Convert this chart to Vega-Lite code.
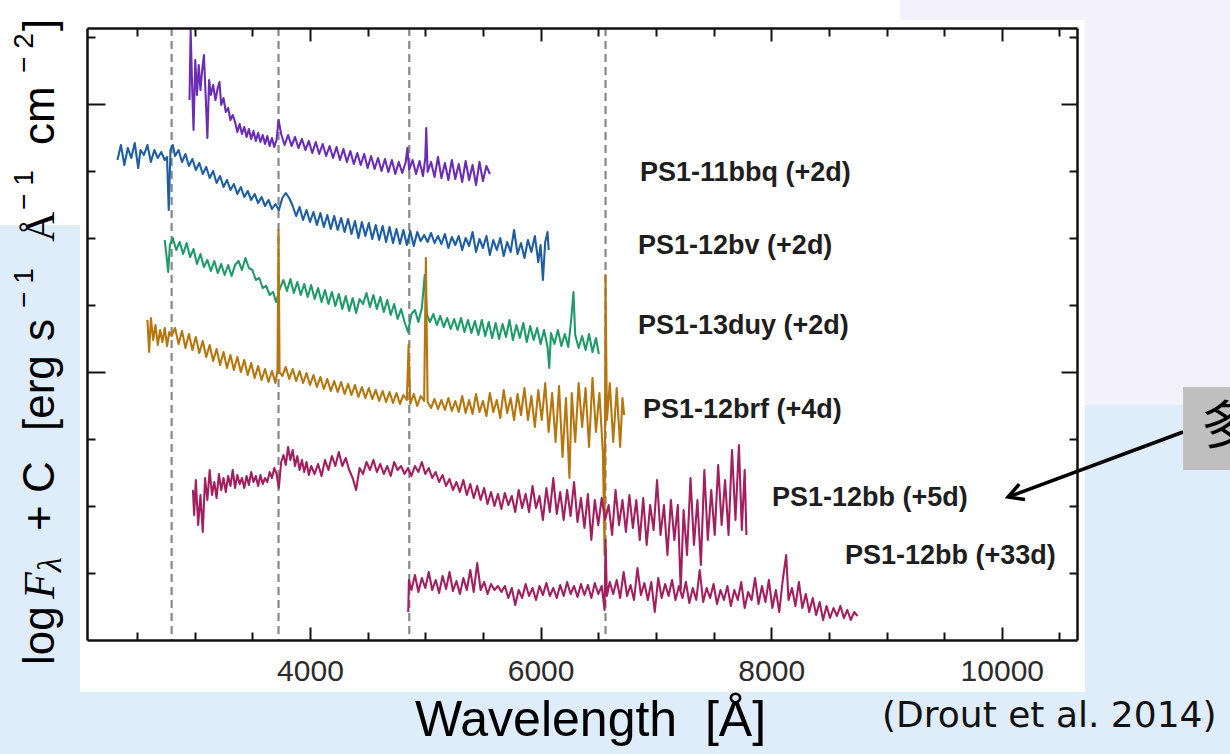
{
  "$schema": "https://vega.github.io/schema/vega-lite/v6.json",
  "width": 990,
  "height": 612,
  "autosize": {"type": "none"},
  "padding": {"left": 87, "top": 28, "right": 153, "bottom": 114},
  "background": "#dfecfa",
  "config": {"view": {"stroke": null}, "axis": {"grid": false, "zindex": 1}},
  "datasets": {
    "backdrop": [
      {"zone": "chart", "x0": 2005, "x1": 10722, "y0": -52, "y1": 620, "tone": "white"},
      {"zone": "topleft", "x0": 1311, "x1": 2005, "y0": 415, "y1": 640, "tone": "white"},
      {"zone": "topstrip", "x0": 1311, "x1": 9117, "y0": 620, "y1": 640, "tone": "white"},
      {"zone": "topright", "x0": 9117, "x1": 11980, "y0": 620, "y1": 640, "tone": "lavender"},
      {"zone": "right", "x0": 10722, "x1": 11980, "y0": 235, "y1": 620, "tone": "lavender"}
    ],
    "lines": [
      {"ion": "Mg II", "w": 2800},
      {"ion": "[O II]", "w": 3727},
      {"ion": "Hβ", "w": 4861},
      {"ion": "Hα", "w": 6563}
    ],
    "labels": [
      {"name": "PS1-11bbq (+2d)", "w": 6862, "v": 467},
      {"name": "PS1-12bv (+2d)", "w": 6845, "v": 394},
      {"name": "PS1-13duy (+2d)", "w": 6845, "v": 314},
      {"name": "PS1-12brf (+4d)", "w": 6888, "v": 230},
      {"name": "PS1-12bb (+5d)", "w": 8007, "v": 142},
      {"name": "PS1-12bb (+33d)", "w": 8640, "v": 84}
    ],
    "ytitle": [
      {"t": "log", "pos": -25, "part": "main"},
      {"t": "F", "pos": 41, "part": "ital"},
      {"t": "λ", "pos": 68, "part": "sub"},
      {"t": "+", "pos": 109, "part": "main"},
      {"t": "C", "pos": 147, "part": "main"},
      {"t": "[erg", "pos": 209, "part": "main"},
      {"t": "s", "pos": 299, "part": "main"},
      {"t": "− 1", "pos": 332, "part": "sup"},
      {"t": "Å", "pos": 398, "part": "serif"},
      {"t": "− 1", "pos": 430, "part": "sup"},
      {"t": "cm", "pos": 495, "part": "main"},
      {"t": "− 2", "pos": 567, "part": "sup"},
      {"t": "]", "pos": 609, "part": "main"}
    ],
    "arrow": [{"x": 11572, "y": 208, "x2": 10054, "y2": 143}],
    "spec": [
      {"s":"11bbq","w":2955,"f":540},{"s":"11bbq","w":2965,"f":610},{"s":"11bbq","w":2975,"f":565},{"s":"11bbq","w":2990,"f":510},{"s":"11bbq","w":3005,"f":580},{"s":"11bbq","w":3020,"f":545},{"s":"11bbq","w":3035,"f":575},{"s":"11bbq","w":3050,"f":550},{"s":"11bbq","w":3065,"f":570},{"s":"11bbq","w":3080,"f":585},{"s":"11bbq","w":3095,"f":545},{"s":"11bbq","w":3110,"f":502},{"s":"11bbq","w":3125,"f":560},{"s":"11bbq","w":3140,"f":545},{"s":"11bbq","w":3160,"f":555},{"s":"11bbq","w":3180,"f":540},{"s":"11bbq","w":3200,"f":552},{"s":"11bbq","w":3215,"f":558},{"s":"11bbq","w":3230,"f":535},{"s":"11bbq","w":3250,"f":542},{"s":"11bbq","w":3270,"f":528},{"s":"11bbq","w":3290,"f":532},{"s":"11bbq","w":3310,"f":520},{"s":"11bbq","w":3330,"f":525},{"s":"11bbq","w":3350,"f":518},{"s":"11bbq","w":3370,"f":508},{"s":"11bbq","w":3390,"f":516},{"s":"11bbq","w":3410,"f":506},{"s":"11bbq","w":3430,"f":513},{"s":"11bbq","w":3450,"f":503},{"s":"11bbq","w":3470,"f":511},{"s":"11bbq","w":3490,"f":501},{"s":"11bbq","w":3510,"f":509},{"s":"11bbq","w":3530,"f":499},{"s":"11bbq","w":3550,"f":507},{"s":"11bbq","w":3570,"f":498},{"s":"11bbq","w":3590,"f":505},{"s":"11bbq","w":3610,"f":496},{"s":"11bbq","w":3630,"f":504},{"s":"11bbq","w":3650,"f":494},{"s":"11bbq","w":3670,"f":502},{"s":"11bbq","w":3690,"f":493},{"s":"11bbq","w":3710,"f":500},{"s":"11bbq","w":3727,"f":520},{"s":"11bbq","w":3750,"f":506},{"s":"11bbq","w":3780,"f":495},{"s":"11bbq","w":3810,"f":505},{"s":"11bbq","w":3840,"f":494},{"s":"11bbq","w":3870,"f":503},{"s":"11bbq","w":3900,"f":492},{"s":"11bbq","w":3930,"f":501},{"s":"11bbq","w":3960,"f":490},{"s":"11bbq","w":3990,"f":499},{"s":"11bbq","w":4020,"f":487},{"s":"11bbq","w":4050,"f":498},{"s":"11bbq","w":4080,"f":486},{"s":"11bbq","w":4110,"f":496},{"s":"11bbq","w":4140,"f":484},{"s":"11bbq","w":4170,"f":494},{"s":"11bbq","w":4200,"f":482},{"s":"11bbq","w":4230,"f":493},{"s":"11bbq","w":4260,"f":480},{"s":"11bbq","w":4290,"f":491},{"s":"11bbq","w":4320,"f":478},{"s":"11bbq","w":4350,"f":489},{"s":"11bbq","w":4380,"f":476},{"s":"11bbq","w":4410,"f":487},{"s":"11bbq","w":4440,"f":475},{"s":"11bbq","w":4470,"f":486},{"s":"11bbq","w":4500,"f":472},{"s":"11bbq","w":4530,"f":484},{"s":"11bbq","w":4560,"f":471},{"s":"11bbq","w":4590,"f":482},{"s":"11bbq","w":4620,"f":469},{"s":"11bbq","w":4650,"f":481},{"s":"11bbq","w":4680,"f":468},{"s":"11bbq","w":4710,"f":480},{"s":"11bbq","w":4740,"f":466},{"s":"11bbq","w":4770,"f":478},{"s":"11bbq","w":4800,"f":467},{"s":"11bbq","w":4830,"f":478},{"s":"11bbq","w":4845,"f":492},{"s":"11bbq","w":4860,"f":470},{"s":"11bbq","w":4890,"f":480},{"s":"11bbq","w":4920,"f":466},{"s":"11bbq","w":4950,"f":479},{"s":"11bbq","w":4980,"f":464},{"s":"11bbq","w":5000,"f":482},{"s":"11bbq","w":5008,"f":512},{"s":"11bbq","w":5020,"f":468},{"s":"11bbq","w":5050,"f":478},{"s":"11bbq","w":5080,"f":463},{"s":"11bbq","w":5110,"f":483},{"s":"11bbq","w":5140,"f":462},{"s":"11bbq","w":5170,"f":477},{"s":"11bbq","w":5200,"f":460},{"s":"11bbq","w":5230,"f":480},{"s":"11bbq","w":5260,"f":461},{"s":"11bbq","w":5290,"f":476},{"s":"11bbq","w":5320,"f":458},{"s":"11bbq","w":5350,"f":479},{"s":"11bbq","w":5380,"f":460},{"s":"11bbq","w":5410,"f":475},{"s":"11bbq","w":5440,"f":455},{"s":"11bbq","w":5470,"f":478},{"s":"11bbq","w":5500,"f":459},{"s":"11bbq","w":5530,"f":474},{"s":"11bbq","w":5560,"f":466},
      {"s":"12bv","w":2330,"f":480},{"s":"12bv","w":2360,"f":495},{"s":"12bv","w":2390,"f":475},{"s":"12bv","w":2420,"f":492},{"s":"12bv","w":2450,"f":482},{"s":"12bv","w":2480,"f":497},{"s":"12bv","w":2510,"f":472},{"s":"12bv","w":2530,"f":490},{"s":"12bv","w":2560,"f":485},{"s":"12bv","w":2590,"f":495},{"s":"12bv","w":2620,"f":478},{"s":"12bv","w":2650,"f":490},{"s":"12bv","w":2680,"f":482},{"s":"12bv","w":2710,"f":488},{"s":"12bv","w":2740,"f":480},{"s":"12bv","w":2760,"f":483},{"s":"12bv","w":2775,"f":430},{"s":"12bv","w":2790,"f":490},{"s":"12bv","w":2810,"f":495},{"s":"12bv","w":2830,"f":484},{"s":"12bv","w":2860,"f":490},{"s":"12bv","w":2890,"f":478},{"s":"12bv","w":2920,"f":486},{"s":"12bv","w":2950,"f":474},{"s":"12bv","w":2980,"f":481},{"s":"12bv","w":3010,"f":470},{"s":"12bv","w":3040,"f":477},{"s":"12bv","w":3070,"f":466},{"s":"12bv","w":3100,"f":473},{"s":"12bv","w":3130,"f":462},{"s":"12bv","w":3160,"f":469},{"s":"12bv","w":3190,"f":457},{"s":"12bv","w":3220,"f":464},{"s":"12bv","w":3250,"f":453},{"s":"12bv","w":3280,"f":460},{"s":"12bv","w":3310,"f":450},{"s":"12bv","w":3340,"f":456},{"s":"12bv","w":3370,"f":446},{"s":"12bv","w":3400,"f":453},{"s":"12bv","w":3430,"f":443},{"s":"12bv","w":3460,"f":449},{"s":"12bv","w":3490,"f":440},{"s":"12bv","w":3520,"f":446},{"s":"12bv","w":3550,"f":437},{"s":"12bv","w":3580,"f":443},{"s":"12bv","w":3610,"f":434},{"s":"12bv","w":3640,"f":440},{"s":"12bv","w":3670,"f":431},{"s":"12bv","w":3700,"f":436},{"s":"12bv","w":3730,"f":430},{"s":"12bv","w":3760,"f":442},{"s":"12bv","w":3790,"f":447},{"s":"12bv","w":3820,"f":442},{"s":"12bv","w":3850,"f":434},{"s":"12bv","w":3880,"f":424},{"s":"12bv","w":3910,"f":433},{"s":"12bv","w":3940,"f":420},{"s":"12bv","w":3970,"f":430},{"s":"12bv","w":4000,"f":418},{"s":"12bv","w":4030,"f":428},{"s":"12bv","w":4060,"f":415},{"s":"12bv","w":4090,"f":427},{"s":"12bv","w":4120,"f":413},{"s":"12bv","w":4150,"f":425},{"s":"12bv","w":4180,"f":411},{"s":"12bv","w":4210,"f":424},{"s":"12bv","w":4240,"f":410},{"s":"12bv","w":4270,"f":422},{"s":"12bv","w":4300,"f":408},{"s":"12bv","w":4330,"f":421},{"s":"12bv","w":4360,"f":406},{"s":"12bv","w":4390,"f":419},{"s":"12bv","w":4420,"f":402},{"s":"12bv","w":4450,"f":418},{"s":"12bv","w":4480,"f":404},{"s":"12bv","w":4510,"f":417},{"s":"12bv","w":4540,"f":401},{"s":"12bv","w":4570,"f":415},{"s":"12bv","w":4600,"f":400},{"s":"12bv","w":4630,"f":414},{"s":"12bv","w":4660,"f":398},{"s":"12bv","w":4690,"f":413},{"s":"12bv","w":4720,"f":397},{"s":"12bv","w":4750,"f":411},{"s":"12bv","w":4780,"f":396},{"s":"12bv","w":4810,"f":410},{"s":"12bv","w":4840,"f":395},{"s":"12bv","w":4870,"f":409},{"s":"12bv","w":4900,"f":394},{"s":"12bv","w":4930,"f":408},{"s":"12bv","w":4960,"f":399},{"s":"12bv","w":4990,"f":405},{"s":"12bv","w":5020,"f":398},{"s":"12bv","w":5050,"f":407},{"s":"12bv","w":5080,"f":397},{"s":"12bv","w":5110,"f":404},{"s":"12bv","w":5140,"f":396},{"s":"12bv","w":5170,"f":406},{"s":"12bv","w":5200,"f":392},{"s":"12bv","w":5230,"f":403},{"s":"12bv","w":5260,"f":395},{"s":"12bv","w":5290,"f":404},{"s":"12bv","w":5320,"f":390},{"s":"12bv","w":5350,"f":402},{"s":"12bv","w":5380,"f":394},{"s":"12bv","w":5410,"f":408},{"s":"12bv","w":5440,"f":388},{"s":"12bv","w":5470,"f":401},{"s":"12bv","w":5500,"f":392},{"s":"12bv","w":5530,"f":404},{"s":"12bv","w":5560,"f":385},{"s":"12bv","w":5590,"f":400},{"s":"12bv","w":5620,"f":390},{"s":"12bv","w":5650,"f":402},{"s":"12bv","w":5680,"f":384},{"s":"12bv","w":5710,"f":398},{"s":"12bv","w":5740,"f":388},{"s":"12bv","w":5770,"f":410},{"s":"12bv","w":5800,"f":386},{"s":"12bv","w":5830,"f":397},{"s":"12bv","w":5860,"f":382},{"s":"12bv","w":5890,"f":400},{"s":"12bv","w":5920,"f":388},{"s":"12bv","w":5950,"f":404},{"s":"12bv","w":5980,"f":378},{"s":"12bv","w":6000,"f":395},{"s":"12bv","w":6020,"f":360},{"s":"12bv","w":6040,"f":398},{"s":"12bv","w":6060,"f":408},{"s":"12bv","w":6070,"f":390},
      {"s":"13duy","w":2740,"f":400},{"s":"13duy","w":2755,"f":385},{"s":"13duy","w":2770,"f":368},{"s":"13duy","w":2785,"f":395},{"s":"13duy","w":2810,"f":402},{"s":"13duy","w":2840,"f":390},{"s":"13duy","w":2870,"f":398},{"s":"13duy","w":2900,"f":386},{"s":"13duy","w":2930,"f":397},{"s":"13duy","w":2960,"f":383},{"s":"13duy","w":2990,"f":391},{"s":"13duy","w":3020,"f":376},{"s":"13duy","w":3050,"f":386},{"s":"13duy","w":3080,"f":373},{"s":"13duy","w":3110,"f":380},{"s":"13duy","w":3140,"f":369},{"s":"13duy","w":3170,"f":379},{"s":"13duy","w":3200,"f":367},{"s":"13duy","w":3230,"f":376},{"s":"13duy","w":3260,"f":365},{"s":"13duy","w":3290,"f":375},{"s":"13duy","w":3320,"f":364},{"s":"13duy","w":3350,"f":375},{"s":"13duy","w":3380,"f":379},{"s":"13duy","w":3410,"f":370},{"s":"13duy","w":3440,"f":382},{"s":"13duy","w":3470,"f":372},{"s":"13duy","w":3500,"f":370},{"s":"13duy","w":3530,"f":360},{"s":"13duy","w":3560,"f":362},{"s":"13duy","w":3590,"f":352},{"s":"13duy","w":3620,"f":354},{"s":"13duy","w":3650,"f":345},{"s":"13duy","w":3680,"f":348},{"s":"13duy","w":3705,"f":338},{"s":"13duy","w":3740,"f":352},{"s":"13duy","w":3770,"f":360},{"s":"13duy","w":3800,"f":349},{"s":"13duy","w":3830,"f":361},{"s":"13duy","w":3860,"f":347},{"s":"13duy","w":3890,"f":358},{"s":"13duy","w":3920,"f":345},{"s":"13duy","w":3950,"f":356},{"s":"13duy","w":3980,"f":343},{"s":"13duy","w":4010,"f":355},{"s":"13duy","w":4040,"f":341},{"s":"13duy","w":4070,"f":352},{"s":"13duy","w":4100,"f":338},{"s":"13duy","w":4130,"f":350},{"s":"13duy","w":4160,"f":336},{"s":"13duy","w":4190,"f":348},{"s":"13duy","w":4220,"f":334},{"s":"13duy","w":4250,"f":346},{"s":"13duy","w":4280,"f":331},{"s":"13duy","w":4310,"f":344},{"s":"13duy","w":4340,"f":329},{"s":"13duy","w":4370,"f":342},{"s":"13duy","w":4400,"f":327},{"s":"13duy","w":4430,"f":341},{"s":"13duy","w":4460,"f":336},{"s":"13duy","w":4490,"f":347},{"s":"13duy","w":4520,"f":333},{"s":"13duy","w":4550,"f":345},{"s":"13duy","w":4580,"f":331},{"s":"13duy","w":4610,"f":343},{"s":"13duy","w":4640,"f":328},{"s":"13duy","w":4670,"f":340},{"s":"13duy","w":4700,"f":325},{"s":"13duy","w":4730,"f":336},{"s":"13duy","w":4760,"f":321},{"s":"13duy","w":4790,"f":331},{"s":"13duy","w":4820,"f":318},{"s":"13duy","w":4850,"f":308},{"s":"13duy","w":4880,"f":326},{"s":"13duy","w":4910,"f":330},{"s":"13duy","w":4940,"f":318},{"s":"13duy","w":4970,"f":332},{"s":"13duy","w":4995,"f":365},{"s":"13duy","w":5015,"f":325},{"s":"13duy","w":5040,"f":318},{"s":"13duy","w":5070,"f":326},{"s":"13duy","w":5100,"f":315},{"s":"13duy","w":5130,"f":324},{"s":"13duy","w":5160,"f":313},{"s":"13duy","w":5190,"f":322},{"s":"13duy","w":5220,"f":311},{"s":"13duy","w":5250,"f":321},{"s":"13duy","w":5280,"f":310},{"s":"13duy","w":5310,"f":322},{"s":"13duy","w":5340,"f":308},{"s":"13duy","w":5370,"f":320},{"s":"13duy","w":5400,"f":307},{"s":"13duy","w":5430,"f":319},{"s":"13duy","w":5460,"f":305},{"s":"13duy","w":5490,"f":320},{"s":"13duy","w":5520,"f":304},{"s":"13duy","w":5550,"f":318},{"s":"13duy","w":5580,"f":302},{"s":"13duy","w":5610,"f":317},{"s":"13duy","w":5640,"f":301},{"s":"13duy","w":5670,"f":316},{"s":"13duy","w":5700,"f":303},{"s":"13duy","w":5730,"f":320},{"s":"13duy","w":5760,"f":300},{"s":"13duy","w":5790,"f":315},{"s":"13duy","w":5820,"f":302},{"s":"13duy","w":5850,"f":317},{"s":"13duy","w":5880,"f":298},{"s":"13duy","w":5910,"f":314},{"s":"13duy","w":5940,"f":300},{"s":"13duy","w":5970,"f":312},{"s":"13duy","w":6000,"f":296},{"s":"13duy","w":6030,"f":310},{"s":"13duy","w":6060,"f":293},{"s":"13duy","w":6075,"f":272},{"s":"13duy","w":6090,"f":307},{"s":"13duy","w":6120,"f":296},{"s":"13duy","w":6150,"f":310},{"s":"13duy","w":6180,"f":294},{"s":"13duy","w":6210,"f":306},{"s":"13duy","w":6240,"f":293},{"s":"13duy","w":6265,"f":320},{"s":"13duy","w":6285,"f":348},{"s":"13duy","w":6300,"f":305},{"s":"13duy","w":6330,"f":292},{"s":"13duy","w":6360,"f":304},{"s":"13duy","w":6390,"f":290},{"s":"13duy","w":6420,"f":306},{"s":"13duy","w":6450,"f":288},{"s":"13duy","w":6480,"f":302},{"s":"13duy","w":6505,"f":286},
      {"s":"12brf","w":2590,"f":320},{"s":"12brf","w":2605,"f":288},{"s":"12brf","w":2620,"f":322},{"s":"12brf","w":2640,"f":300},{"s":"12brf","w":2660,"f":315},{"s":"12brf","w":2680,"f":295},{"s":"12brf","w":2700,"f":310},{"s":"12brf","w":2720,"f":298},{"s":"12brf","w":2740,"f":312},{"s":"12brf","w":2760,"f":294},{"s":"12brf","w":2780,"f":308},{"s":"12brf","w":2800,"f":304},{"s":"12brf","w":2830,"f":312},{"s":"12brf","w":2860,"f":296},{"s":"12brf","w":2890,"f":309},{"s":"12brf","w":2920,"f":292},{"s":"12brf","w":2950,"f":306},{"s":"12brf","w":2980,"f":290},{"s":"12brf","w":3010,"f":303},{"s":"12brf","w":3040,"f":287},{"s":"12brf","w":3070,"f":299},{"s":"12brf","w":3100,"f":283},{"s":"12brf","w":3130,"f":295},{"s":"12brf","w":3160,"f":279},{"s":"12brf","w":3190,"f":291},{"s":"12brf","w":3220,"f":275},{"s":"12brf","w":3250,"f":288},{"s":"12brf","w":3280,"f":272},{"s":"12brf","w":3310,"f":285},{"s":"12brf","w":3340,"f":270},{"s":"12brf","w":3370,"f":283},{"s":"12brf","w":3400,"f":268},{"s":"12brf","w":3430,"f":280},{"s":"12brf","w":3460,"f":265},{"s":"12brf","w":3490,"f":277},{"s":"12brf","w":3520,"f":262},{"s":"12brf","w":3550,"f":274},{"s":"12brf","w":3580,"f":260},{"s":"12brf","w":3610,"f":271},{"s":"12brf","w":3640,"f":258},{"s":"12brf","w":3670,"f":269},{"s":"12brf","w":3700,"f":257},{"s":"12brf","w":3718,"f":270},{"s":"12brf","w":3727,"f":410},{"s":"12brf","w":3736,"f":268},{"s":"12brf","w":3760,"f":264},{"s":"12brf","w":3790,"f":273},{"s":"12brf","w":3820,"f":261},{"s":"12brf","w":3850,"f":271},{"s":"12brf","w":3880,"f":259},{"s":"12brf","w":3910,"f":269},{"s":"12brf","w":3940,"f":257},{"s":"12brf","w":3970,"f":267},{"s":"12brf","w":4000,"f":255},{"s":"12brf","w":4030,"f":265},{"s":"12brf","w":4060,"f":253},{"s":"12brf","w":4090,"f":263},{"s":"12brf","w":4120,"f":251},{"s":"12brf","w":4150,"f":261},{"s":"12brf","w":4180,"f":249},{"s":"12brf","w":4210,"f":259},{"s":"12brf","w":4240,"f":248},{"s":"12brf","w":4270,"f":258},{"s":"12brf","w":4300,"f":246},{"s":"12brf","w":4330,"f":256},{"s":"12brf","w":4360,"f":245},{"s":"12brf","w":4390,"f":255},{"s":"12brf","w":4420,"f":243},{"s":"12brf","w":4450,"f":253},{"s":"12brf","w":4480,"f":242},{"s":"12brf","w":4510,"f":252},{"s":"12brf","w":4540,"f":241},{"s":"12brf","w":4570,"f":250},{"s":"12brf","w":4600,"f":239},{"s":"12brf","w":4630,"f":249},{"s":"12brf","w":4660,"f":238},{"s":"12brf","w":4690,"f":248},{"s":"12brf","w":4720,"f":237},{"s":"12brf","w":4750,"f":247},{"s":"12brf","w":4780,"f":236},{"s":"12brf","w":4810,"f":245},{"s":"12brf","w":4840,"f":240},{"s":"12brf","w":4855,"f":295},{"s":"12brf","w":4870,"f":236},{"s":"12brf","w":4900,"f":246},{"s":"12brf","w":4930,"f":234},{"s":"12brf","w":4960,"f":244},{"s":"12brf","w":4990,"f":239},{"s":"12brf","w":5005,"f":382},{"s":"12brf","w":5020,"f":238},{"s":"12brf","w":5050,"f":232},{"s":"12brf","w":5080,"f":241},{"s":"12brf","w":5110,"f":231},{"s":"12brf","w":5140,"f":240},{"s":"12brf","w":5170,"f":230},{"s":"12brf","w":5200,"f":242},{"s":"12brf","w":5230,"f":229},{"s":"12brf","w":5260,"f":239},{"s":"12brf","w":5290,"f":228},{"s":"12brf","w":5320,"f":244},{"s":"12brf","w":5350,"f":227},{"s":"12brf","w":5380,"f":240},{"s":"12brf","w":5410,"f":226},{"s":"12brf","w":5440,"f":246},{"s":"12brf","w":5470,"f":228},{"s":"12brf","w":5500,"f":239},{"s":"12brf","w":5530,"f":224},{"s":"12brf","w":5560,"f":247},{"s":"12brf","w":5590,"f":228},{"s":"12brf","w":5620,"f":240},{"s":"12brf","w":5650,"f":222},{"s":"12brf","w":5680,"f":250},{"s":"12brf","w":5710,"f":227},{"s":"12brf","w":5740,"f":242},{"s":"12brf","w":5770,"f":220},{"s":"12brf","w":5800,"f":246},{"s":"12brf","w":5830,"f":225},{"s":"12brf","w":5860,"f":252},{"s":"12brf","w":5890,"f":220},{"s":"12brf","w":5920,"f":244},{"s":"12brf","w":5950,"f":213},{"s":"12brf","w":5980,"f":250},{"s":"12brf","w":6010,"f":220},{"s":"12brf","w":6040,"f":257},{"s":"12brf","w":6070,"f":208},{"s":"12brf","w":6100,"f":247},{"s":"12brf","w":6130,"f":198},{"s":"12brf","w":6160,"f":254},{"s":"12brf","w":6190,"f":183},{"s":"12brf","w":6220,"f":242},{"s":"12brf","w":6250,"f":162},{"s":"12brf","w":6270,"f":247},{"s":"12brf","w":6300,"f":198},{"s":"12brf","w":6330,"f":257},{"s":"12brf","w":6360,"f":213},{"s":"12brf","w":6390,"f":252},{"s":"12brf","w":6420,"f":193},{"s":"12brf","w":6450,"f":262},{"s":"12brf","w":6480,"f":208},{"s":"12brf","w":6510,"f":247},{"s":"12brf","w":6540,"f":188},{"s":"12brf","w":6555,"f":85},{"s":"12brf","w":6563,"f":365},{"s":"12brf","w":6575,"f":220},{"s":"12brf","w":6600,"f":257},{"s":"12brf","w":6630,"f":198},{"s":"12brf","w":6660,"f":252},{"s":"12brf","w":6690,"f":193},{"s":"12brf","w":6710,"f":242},{"s":"12brf","w":6725,"f":225},
      {"s":"12bb_5d","w":2985,"f":150},{"s":"12bb_5d","w":2995,"f":125},{"s":"12bb_5d","w":3010,"f":160},{"s":"12bb_5d","w":3030,"f":115},{"s":"12bb_5d","w":3050,"f":145},{"s":"12bb_5d","w":3070,"f":108},{"s":"12bb_5d","w":3090,"f":162},{"s":"12bb_5d","w":3110,"f":140},{"s":"12bb_5d","w":3130,"f":170},{"s":"12bb_5d","w":3150,"f":145},{"s":"12bb_5d","w":3170,"f":158},{"s":"12bb_5d","w":3190,"f":142},{"s":"12bb_5d","w":3210,"f":166},{"s":"12bb_5d","w":3230,"f":150},{"s":"12bb_5d","w":3250,"f":162},{"s":"12bb_5d","w":3270,"f":148},{"s":"12bb_5d","w":3290,"f":164},{"s":"12bb_5d","w":3310,"f":154},{"s":"12bb_5d","w":3330,"f":170},{"s":"12bb_5d","w":3350,"f":152},{"s":"12bb_5d","w":3370,"f":165},{"s":"12bb_5d","w":3390,"f":156},{"s":"12bb_5d","w":3410,"f":162},{"s":"12bb_5d","w":3430,"f":152},{"s":"12bb_5d","w":3450,"f":164},{"s":"12bb_5d","w":3470,"f":155},{"s":"12bb_5d","w":3490,"f":168},{"s":"12bb_5d","w":3510,"f":158},{"s":"12bb_5d","w":3530,"f":164},{"s":"12bb_5d","w":3550,"f":154},{"s":"12bb_5d","w":3570,"f":165},{"s":"12bb_5d","w":3590,"f":156},{"s":"12bb_5d","w":3610,"f":162},{"s":"12bb_5d","w":3630,"f":158},{"s":"12bb_5d","w":3650,"f":168},{"s":"12bb_5d","w":3670,"f":162},{"s":"12bb_5d","w":3690,"f":172},{"s":"12bb_5d","w":3710,"f":166},{"s":"12bb_5d","w":3730,"f":152},{"s":"12bb_5d","w":3750,"f":178},{"s":"12bb_5d","w":3770,"f":185},{"s":"12bb_5d","w":3790,"f":175},{"s":"12bb_5d","w":3810,"f":193},{"s":"12bb_5d","w":3830,"f":180},{"s":"12bb_5d","w":3850,"f":190},{"s":"12bb_5d","w":3870,"f":174},{"s":"12bb_5d","w":3890,"f":184},{"s":"12bb_5d","w":3910,"f":170},{"s":"12bb_5d","w":3930,"f":180},{"s":"12bb_5d","w":3950,"f":168},{"s":"12bb_5d","w":3970,"f":178},{"s":"12bb_5d","w":3990,"f":165},{"s":"12bb_5d","w":4010,"f":174},{"s":"12bb_5d","w":4040,"f":166},{"s":"12bb_5d","w":4070,"f":176},{"s":"12bb_5d","w":4100,"f":164},{"s":"12bb_5d","w":4130,"f":180},{"s":"12bb_5d","w":4160,"f":170},{"s":"12bb_5d","w":4190,"f":184},{"s":"12bb_5d","w":4220,"f":174},{"s":"12bb_5d","w":4250,"f":188},{"s":"12bb_5d","w":4280,"f":174},{"s":"12bb_5d","w":4310,"f":182},{"s":"12bb_5d","w":4340,"f":170},{"s":"12bb_5d","w":4370,"f":162},{"s":"12bb_5d","w":4400,"f":150},{"s":"12bb_5d","w":4430,"f":172},{"s":"12bb_5d","w":4460,"f":166},{"s":"12bb_5d","w":4490,"f":178},{"s":"12bb_5d","w":4520,"f":170},{"s":"12bb_5d","w":4550,"f":180},{"s":"12bb_5d","w":4580,"f":168},{"s":"12bb_5d","w":4610,"f":176},{"s":"12bb_5d","w":4640,"f":166},{"s":"12bb_5d","w":4670,"f":174},{"s":"12bb_5d","w":4700,"f":164},{"s":"12bb_5d","w":4730,"f":178},{"s":"12bb_5d","w":4760,"f":170},{"s":"12bb_5d","w":4790,"f":174},{"s":"12bb_5d","w":4820,"f":166},{"s":"12bb_5d","w":4850,"f":172},{"s":"12bb_5d","w":4880,"f":164},{"s":"12bb_5d","w":4910,"f":174},{"s":"12bb_5d","w":4940,"f":168},{"s":"12bb_5d","w":4970,"f":178},{"s":"12bb_5d","w":5000,"f":166},{"s":"12bb_5d","w":5030,"f":172},{"s":"12bb_5d","w":5060,"f":162},{"s":"12bb_5d","w":5090,"f":168},{"s":"12bb_5d","w":5120,"f":158},{"s":"12bb_5d","w":5150,"f":165},{"s":"12bb_5d","w":5180,"f":154},{"s":"12bb_5d","w":5210,"f":161},{"s":"12bb_5d","w":5240,"f":150},{"s":"12bb_5d","w":5270,"f":158},{"s":"12bb_5d","w":5300,"f":148},{"s":"12bb_5d","w":5330,"f":160},{"s":"12bb_5d","w":5360,"f":145},{"s":"12bb_5d","w":5390,"f":156},{"s":"12bb_5d","w":5420,"f":142},{"s":"12bb_5d","w":5450,"f":154},{"s":"12bb_5d","w":5480,"f":140},{"s":"12bb_5d","w":5510,"f":152},{"s":"12bb_5d","w":5540,"f":136},{"s":"12bb_5d","w":5570,"f":148},{"s":"12bb_5d","w":5600,"f":134},{"s":"12bb_5d","w":5630,"f":146},{"s":"12bb_5d","w":5660,"f":131},{"s":"12bb_5d","w":5690,"f":147},{"s":"12bb_5d","w":5720,"f":135},{"s":"12bb_5d","w":5750,"f":144},{"s":"12bb_5d","w":5780,"f":128},{"s":"12bb_5d","w":5810,"f":150},{"s":"12bb_5d","w":5840,"f":132},{"s":"12bb_5d","w":5870,"f":146},{"s":"12bb_5d","w":5900,"f":128},{"s":"12bb_5d","w":5930,"f":154},{"s":"12bb_5d","w":5960,"f":132},{"s":"12bb_5d","w":5990,"f":144},{"s":"12bb_5d","w":6020,"f":120},{"s":"12bb_5d","w":6050,"f":152},{"s":"12bb_5d","w":6080,"f":128},{"s":"12bb_5d","w":6110,"f":162},{"s":"12bb_5d","w":6140,"f":126},{"s":"12bb_5d","w":6170,"f":148},{"s":"12bb_5d","w":6200,"f":120},{"s":"12bb_5d","w":6230,"f":150},{"s":"12bb_5d","w":6260,"f":124},{"s":"12bb_5d","w":6290,"f":158},{"s":"12bb_5d","w":6320,"f":118},{"s":"12bb_5d","w":6350,"f":142},{"s":"12bb_5d","w":6380,"f":112},{"s":"12bb_5d","w":6410,"f":146},{"s":"12bb_5d","w":6440,"f":100},{"s":"12bb_5d","w":6470,"f":140},{"s":"12bb_5d","w":6500,"f":115},{"s":"12bb_5d","w":6530,"f":142},{"s":"12bb_5d","w":6560,"f":120},{"s":"12bb_5d","w":6590,"f":135},{"s":"12bb_5d","w":6620,"f":105},{"s":"12bb_5d","w":6650,"f":150},{"s":"12bb_5d","w":6680,"f":115},{"s":"12bb_5d","w":6710,"f":140},{"s":"12bb_5d","w":6740,"f":108},{"s":"12bb_5d","w":6770,"f":145},{"s":"12bb_5d","w":6800,"f":112},{"s":"12bb_5d","w":6830,"f":140},{"s":"12bb_5d","w":6860,"f":100},{"s":"12bb_5d","w":6890,"f":142},{"s":"12bb_5d","w":6920,"f":95},{"s":"12bb_5d","w":6950,"f":135},{"s":"12bb_5d","w":6980,"f":110},{"s":"12bb_5d","w":7010,"f":160},{"s":"12bb_5d","w":7040,"f":105},{"s":"12bb_5d","w":7070,"f":135},{"s":"12bb_5d","w":7100,"f":85},{"s":"12bb_5d","w":7130,"f":140},{"s":"12bb_5d","w":7160,"f":100},{"s":"12bb_5d","w":7190,"f":135},{"s":"12bb_5d","w":7215,"f":50},{"s":"12bb_5d","w":7240,"f":130},{"s":"12bb_5d","w":7270,"f":85},{"s":"12bb_5d","w":7300,"f":162},{"s":"12bb_5d","w":7330,"f":95},{"s":"12bb_5d","w":7360,"f":140},{"s":"12bb_5d","w":7390,"f":75},{"s":"12bb_5d","w":7420,"f":170},{"s":"12bb_5d","w":7450,"f":100},{"s":"12bb_5d","w":7480,"f":150},{"s":"12bb_5d","w":7510,"f":105},{"s":"12bb_5d","w":7540,"f":175},{"s":"12bb_5d","w":7570,"f":115},{"s":"12bb_5d","w":7600,"f":160},{"s":"12bb_5d","w":7630,"f":105},{"s":"12bb_5d","w":7660,"f":190},{"s":"12bb_5d","w":7690,"f":120},{"s":"12bb_5d","w":7720,"f":195},{"s":"12bb_5d","w":7745,"f":110},{"s":"12bb_5d","w":7770,"f":170},{"s":"12bb_5d","w":7785,"f":105},
      {"s":"12bb_33d","w":4852,"f":28},{"s":"12bb_33d","w":4858,"f":60},{"s":"12bb_33d","w":4880,"f":50},{"s":"12bb_33d","w":4910,"f":65},{"s":"12bb_33d","w":4940,"f":48},{"s":"12bb_33d","w":4970,"f":62},{"s":"12bb_33d","w":5000,"f":52},{"s":"12bb_33d","w":5030,"f":68},{"s":"12bb_33d","w":5060,"f":50},{"s":"12bb_33d","w":5090,"f":60},{"s":"12bb_33d","w":5120,"f":47},{"s":"12bb_33d","w":5150,"f":64},{"s":"12bb_33d","w":5180,"f":51},{"s":"12bb_33d","w":5210,"f":68},{"s":"12bb_33d","w":5240,"f":49},{"s":"12bb_33d","w":5270,"f":59},{"s":"12bb_33d","w":5300,"f":46},{"s":"12bb_33d","w":5330,"f":62},{"s":"12bb_33d","w":5360,"f":50},{"s":"12bb_33d","w":5390,"f":70},{"s":"12bb_33d","w":5420,"f":48},{"s":"12bb_33d","w":5450,"f":77},{"s":"12bb_33d","w":5480,"f":50},{"s":"12bb_33d","w":5510,"f":58},{"s":"12bb_33d","w":5540,"f":46},{"s":"12bb_33d","w":5570,"f":56},{"s":"12bb_33d","w":5600,"f":50},{"s":"12bb_33d","w":5630,"f":54},{"s":"12bb_33d","w":5660,"f":48},{"s":"12bb_33d","w":5690,"f":54},{"s":"12bb_33d","w":5720,"f":42},{"s":"12bb_33d","w":5750,"f":52},{"s":"12bb_33d","w":5780,"f":35},{"s":"12bb_33d","w":5810,"f":50},{"s":"12bb_33d","w":5840,"f":42},{"s":"12bb_33d","w":5870,"f":56},{"s":"12bb_33d","w":5900,"f":44},{"s":"12bb_33d","w":5930,"f":52},{"s":"12bb_33d","w":5960,"f":40},{"s":"12bb_33d","w":5990,"f":54},{"s":"12bb_33d","w":6020,"f":45},{"s":"12bb_33d","w":6050,"f":57},{"s":"12bb_33d","w":6080,"f":44},{"s":"12bb_33d","w":6110,"f":52},{"s":"12bb_33d","w":6140,"f":42},{"s":"12bb_33d","w":6170,"f":55},{"s":"12bb_33d","w":6200,"f":44},{"s":"12bb_33d","w":6230,"f":58},{"s":"12bb_33d","w":6260,"f":46},{"s":"12bb_33d","w":6290,"f":54},{"s":"12bb_33d","w":6320,"f":43},{"s":"12bb_33d","w":6350,"f":56},{"s":"12bb_33d","w":6380,"f":45},{"s":"12bb_33d","w":6410,"f":55},{"s":"12bb_33d","w":6440,"f":42},{"s":"12bb_33d","w":6470,"f":57},{"s":"12bb_33d","w":6500,"f":46},{"s":"12bb_33d","w":6530,"f":54},{"s":"12bb_33d","w":6555,"f":30},{"s":"12bb_33d","w":6563,"f":100},{"s":"12bb_33d","w":6575,"f":44},{"s":"12bb_33d","w":6600,"f":58},{"s":"12bb_33d","w":6630,"f":46},{"s":"12bb_33d","w":6660,"f":60},{"s":"12bb_33d","w":6690,"f":42},{"s":"12bb_33d","w":6720,"f":68},{"s":"12bb_33d","w":6750,"f":44},{"s":"12bb_33d","w":6780,"f":55},{"s":"12bb_33d","w":6810,"f":40},{"s":"12bb_33d","w":6840,"f":72},{"s":"12bb_33d","w":6870,"f":45},{"s":"12bb_33d","w":6900,"f":57},{"s":"12bb_33d","w":6930,"f":40},{"s":"12bb_33d","w":6960,"f":58},{"s":"12bb_33d","w":6990,"f":28},{"s":"12bb_33d","w":7020,"f":62},{"s":"12bb_33d","w":7050,"f":42},{"s":"12bb_33d","w":7080,"f":56},{"s":"12bb_33d","w":7110,"f":44},{"s":"12bb_33d","w":7140,"f":60},{"s":"12bb_33d","w":7170,"f":40},{"s":"12bb_33d","w":7200,"f":54},{"s":"12bb_33d","w":7230,"f":42},{"s":"12bb_33d","w":7260,"f":58},{"s":"12bb_33d","w":7290,"f":37},{"s":"12bb_33d","w":7320,"f":52},{"s":"12bb_33d","w":7350,"f":40},{"s":"12bb_33d","w":7380,"f":70},{"s":"12bb_33d","w":7410,"f":38},{"s":"12bb_33d","w":7440,"f":52},{"s":"12bb_33d","w":7470,"f":42},{"s":"12bb_33d","w":7500,"f":56},{"s":"12bb_33d","w":7530,"f":36},{"s":"12bb_33d","w":7560,"f":50},{"s":"12bb_33d","w":7590,"f":40},{"s":"12bb_33d","w":7620,"f":54},{"s":"12bb_33d","w":7650,"f":34},{"s":"12bb_33d","w":7680,"f":50},{"s":"12bb_33d","w":7710,"f":40},{"s":"12bb_33d","w":7740,"f":58},{"s":"12bb_33d","w":7770,"f":32},{"s":"12bb_33d","w":7800,"f":48},{"s":"12bb_33d","w":7830,"f":40},{"s":"12bb_33d","w":7860,"f":62},{"s":"12bb_33d","w":7890,"f":36},{"s":"12bb_33d","w":7920,"f":54},{"s":"12bb_33d","w":7950,"f":38},{"s":"12bb_33d","w":7980,"f":60},{"s":"12bb_33d","w":8010,"f":32},{"s":"12bb_33d","w":8040,"f":50},{"s":"12bb_33d","w":8070,"f":28},{"s":"12bb_33d","w":8100,"f":60},{"s":"12bb_33d","w":8130,"f":85},{"s":"12bb_33d","w":8150,"f":40},{"s":"12bb_33d","w":8180,"f":52},{"s":"12bb_33d","w":8210,"f":34},{"s":"12bb_33d","w":8240,"f":58},{"s":"12bb_33d","w":8270,"f":32},{"s":"12bb_33d","w":8300,"f":46},{"s":"12bb_33d","w":8330,"f":28},{"s":"12bb_33d","w":8360,"f":42},{"s":"12bb_33d","w":8390,"f":25},{"s":"12bb_33d","w":8420,"f":38},{"s":"12bb_33d","w":8450,"f":20},{"s":"12bb_33d","w":8480,"f":34},{"s":"12bb_33d","w":8510,"f":22},{"s":"12bb_33d","w":8540,"f":32},{"s":"12bb_33d","w":8570,"f":24},{"s":"12bb_33d","w":8600,"f":34},{"s":"12bb_33d","w":8630,"f":22},{"s":"12bb_33d","w":8660,"f":30},{"s":"12bb_33d","w":8690,"f":20},{"s":"12bb_33d","w":8720,"f":28},{"s":"12bb_33d","w":8748,"f":24}
    ]
  },
  "layer": [
    {
      "data": {"name": "backdrop"},
      "transform": [{"filter": "datum.tone === 'white'"}],
      "mark": {"type": "rect", "fill": "#ffffff"},
      "encoding": {
        "x": {"field": "x0", "type": "quantitative", "scale": {"domain": [2066, 10652], "nice": false, "zero": false},
          "axis": {"orient": "bottom", "values": [4000, 6000, 8000, 10000], "format": "d", "tickSize": -13, "tickWidth": 2, "tickColor": "#111111", "domain": true, "domainColor": "#111111", "domainWidth": 2.5, "labels": true, "labelFont": "Liberation Sans", "labelFontSize": 30, "labelColor": "#2b2b2b", "labelPadding": 29, "labelFlush": false, "labelOverlap": false, "title": "Wavelength\u00a0\u00a0[Å]", "titleFont": "Liberation Sans", "titleFontSize": 50, "titleFontWeight": "normal", "titleColor": "#000000", "titleX": 503, "titleY": 95, "titleAlign": "center", "titleBaseline": "alphabetic", "grid": false, "zindex": 1}},
        "x2": {"field": "x1"},
        "y": {"field": "y0", "type": "quantitative", "scale": {"domain": [0, 612], "nice": false, "zero": false},
          "axis": {"orient": "left", "values": [268, 536], "tickSize": -18, "tickWidth": 2, "tickColor": "#111111", "labels": false, "domain": true, "domainColor": "#111111", "domainWidth": 2.5, "title": null, "grid": false, "zindex": 1}},
        "y2": {"field": "y1"}
      }
    },
    {
      "data": {"name": "backdrop"},
      "transform": [{"filter": "datum.tone === 'lavender'"}],
      "mark": {"type": "rect", "fill": "#f2f1fc"},
      "encoding": {
        "x": {"field": "x0", "type": "quantitative", "scale": {"domain": [2066, 10652], "nice": false, "zero": false}, "axis": null},
        "x2": {"field": "x1"},
        "y": {"field": "y0", "type": "quantitative", "scale": {"domain": [0, 612], "nice": false, "zero": false}, "axis": null},
        "y2": {"field": "y1"}
      }
    },
    {
      "data": {"name": "lines"},
      "mark": {"type": "rule", "color": "#888888", "strokeWidth": 2.2, "strokeDash": [8, 5]},
      "encoding": {
        "x": {"field": "w", "type": "quantitative", "scale": {"domain": [2066, 10652], "nice": false, "zero": false}, "axis": null}
      }
    },
    {
      "data": {"name": "spec"},
      "mark": {"type": "line", "strokeWidth": 2.1, "strokeJoin": "round"},
      "encoding": {
        "x": {"field": "w", "type": "quantitative", "scale": {"domain": [2066, 10652], "nice": false, "zero": false},
          "axis": {"orient": "bottom", "values": [2500, 3000, 3500, 4500, 5000, 5500, 6500, 7000, 7500, 8500, 9000, 9500, 10500], "tickSize": -8, "tickWidth": 2, "tickColor": "#111111", "labels": false, "domain": false, "title": null, "grid": false, "zindex": 1}},
        "y": {"field": "f", "type": "quantitative", "scale": {"domain": [0, 612], "nice": false, "zero": false},
          "axis": {"orient": "left", "values": [67, 134, 201, 335, 402, 469, 603], "tickSize": -8, "tickWidth": 2, "tickColor": "#111111", "labels": false, "domain": false, "title": null, "grid": false, "zindex": 1}},
        "color": {"field": "s", "type": "nominal", "legend": null,
          "scale": {"domain": ["11bbq", "12bv", "13duy", "12brf", "12bb_5d", "12bb_33d"], "range": ["#6a2db3", "#1e5ea3", "#1f9b6b", "#b5760f", "#a3205e", "#a3205e"]}}
      }
    },
    {
      "data": {"name": "labels"},
      "mark": {"type": "text", "align": "left", "baseline": "middle", "font": "Liberation Sans", "fontWeight": "bold", "fontSize": 27, "color": "#1e1e1e"},
      "encoding": {
        "x": {"field": "w", "type": "quantitative", "scale": {"domain": [2066, 10652], "nice": false, "zero": false},
          "axis": {"orient": "top", "values": [4000, 6000, 8000, 10000], "tickSize": -13, "tickWidth": 2, "tickColor": "#111111", "labels": false, "domain": true, "domainColor": "#111111", "domainWidth": 2.5, "title": null, "grid": false, "zindex": 1}},
        "y": {"field": "v", "type": "quantitative", "scale": {"domain": [0, 612], "nice": false, "zero": false},
          "axis": {"orient": "right", "values": [268, 536], "tickSize": -16, "tickWidth": 2, "tickColor": "#111111", "labels": false, "domain": true, "domainColor": "#111111", "domainWidth": 2.5, "title": null, "grid": false, "zindex": 1}},
        "text": {"field": "name"}
      }
    },
    {
      "data": {"name": "arrow"},
      "mark": {"type": "rule", "color": "#000000", "strokeWidth": 3.5},
      "encoding": {
        "x": {"field": "x", "type": "quantitative", "scale": {"domain": [2066, 10652], "nice": false, "zero": false},
          "axis": {"orient": "top", "values": [2500, 3000, 3500, 4500, 5000, 5500, 6500, 7000, 7500, 8500, 9000, 9500, 10500], "tickSize": -8, "tickWidth": 2, "tickColor": "#111111", "labels": false, "domain": false, "title": null, "grid": false, "zindex": 1}},
        "x2": {"field": "x2"},
        "y": {"field": "y", "type": "quantitative", "scale": {"domain": [0, 612], "nice": false, "zero": false},
          "axis": {"orient": "right", "values": [67, 134, 201, 335, 402, 469, 603], "tickSize": -8, "tickWidth": 2, "tickColor": "#111111", "labels": false, "domain": false, "title": null, "grid": false, "zindex": 1}},
        "y2": {"field": "y2"}
      }
    },
    {
      "data": {"name": "arrow"},
      "mark": {"type": "point", "shape": "M -1 -0.55 L 0 0 L -1 0.55", "filled": false, "stroke": "#000000", "strokeWidth": 3.5, "size": 900, "angle": 159.6, "opacity": 1, "strokeJoin": "miter"},
      "encoding": {
        "x": {"field": "x2", "type": "quantitative", "scale": {"domain": [2066, 10652], "nice": false, "zero": false}, "axis": null},
        "y": {"field": "y2", "type": "quantitative", "scale": {"domain": [0, 612], "nice": false, "zero": false}, "axis": null}
      }
    },
    {
      "data": {"values": [{"x0": 11572, "x1": 12100, "y0": 253, "y1": 170, "note": "多"}]},
      "layer": [
        {
          "mark": {"type": "rect", "fill": "#bfbfbf"},
          "encoding": {
            "x": {"field": "x0", "type": "quantitative", "scale": {"domain": [2066, 10652], "nice": false, "zero": false}, "axis": null},
            "x2": {"field": "x1"},
            "y": {"field": "y0", "type": "quantitative", "scale": {"domain": [0, 612], "nice": false, "zero": false}, "axis": null},
            "y2": {"field": "y1"}
          }
        },
        {
          "mark": {"type": "text", "align": "left", "baseline": "middle", "font": "Noto Sans CJK JP", "fontSize": 52, "color": "#000000", "dx": 18},
          "encoding": {
            "x": {"field": "x0", "type": "quantitative", "scale": {"domain": [2066, 10652], "nice": false, "zero": false}, "axis": null},
            "y": {"datum": 212, "type": "quantitative", "scale": {"domain": [0, 612], "nice": false, "zero": false}, "axis": null},
            "text": {"field": "note"}
          }
        }
      ]
    },
    {
      "data": {"values": [{"cite": "(Drout et al. 2014)", "w": 8961, "v": -87}]},
      "mark": {"type": "text", "align": "left", "baseline": "alphabetic", "font": "DejaVu Sans", "fontSize": 36, "color": "#111111"},
      "encoding": {
        "x": {"field": "w", "type": "quantitative", "scale": {"domain": [2066, 10652], "nice": false, "zero": false}, "axis": null},
        "y": {"field": "v", "type": "quantitative", "scale": {"domain": [0, 612], "nice": false, "zero": false}, "axis": null},
        "text": {"field": "cite"}
      }
    },
    {
      "data": {"name": "ytitle"},
      "layer": [
        {
          "transform": [{"filter": "datum.part === 'main'"}],
          "mark": {"type": "text", "angle": 270, "align": "left", "baseline": "alphabetic", "font": "Liberation Sans", "fontSize": 44, "color": "#000000"},
          "encoding": {
            "x": {"datum": 1780, "type": "quantitative", "scale": {"domain": [2066, 10652], "nice": false, "zero": false}, "axis": null},
            "y": {"field": "pos", "type": "quantitative", "scale": {"domain": [0, 612], "nice": false, "zero": false}, "axis": null},
            "text": {"field": "t"}
          }
        },
        {
          "transform": [{"filter": "datum.part === 'ital'"}],
          "mark": {"type": "text", "angle": 270, "align": "left", "baseline": "alphabetic", "font": "Liberation Serif", "fontStyle": "italic", "fontSize": 44, "color": "#000000"},
          "encoding": {
            "x": {"datum": 1780, "type": "quantitative", "scale": {"domain": [2066, 10652], "nice": false, "zero": false}, "axis": null},
            "y": {"field": "pos", "type": "quantitative", "scale": {"domain": [0, 612], "nice": false, "zero": false}, "axis": null},
            "text": {"field": "t"}
          }
        },
        {
          "transform": [{"filter": "datum.part === 'sub'"}],
          "mark": {"type": "text", "angle": 270, "align": "left", "baseline": "alphabetic", "font": "Liberation Serif", "fontStyle": "italic", "fontSize": 34, "color": "#000000", "dy": 7},
          "encoding": {
            "x": {"datum": 1780, "type": "quantitative", "scale": {"domain": [2066, 10652], "nice": false, "zero": false}, "axis": null},
            "y": {"field": "pos", "type": "quantitative", "scale": {"domain": [0, 612], "nice": false, "zero": false}, "axis": null},
            "text": {"field": "t"}
          }
        },
        {
          "transform": [{"filter": "datum.part === 'sup'"}],
          "mark": {"type": "text", "angle": 270, "align": "left", "baseline": "alphabetic", "font": "Liberation Sans", "fontSize": 28, "color": "#000000", "dy": -21},
          "encoding": {
            "x": {"datum": 1780, "type": "quantitative", "scale": {"domain": [2066, 10652], "nice": false, "zero": false}, "axis": null},
            "y": {"field": "pos", "type": "quantitative", "scale": {"domain": [0, 612], "nice": false, "zero": false}, "axis": null},
            "text": {"field": "t"}
          }
        },
        {
          "transform": [{"filter": "datum.part === 'serif'"}],
          "mark": {"type": "text", "angle": 270, "align": "left", "baseline": "alphabetic", "font": "Liberation Serif", "fontSize": 42, "color": "#000000"},
          "encoding": {
            "x": {"datum": 1780, "type": "quantitative", "scale": {"domain": [2066, 10652], "nice": false, "zero": false}, "axis": null},
            "y": {"field": "pos", "type": "quantitative", "scale": {"domain": [0, 612], "nice": false, "zero": false}, "axis": null},
            "text": {"field": "t"}
          }
        }
      ]
    }
  ],
  "resolve": {"axis": {"x": "independent", "y": "independent"}}
}
